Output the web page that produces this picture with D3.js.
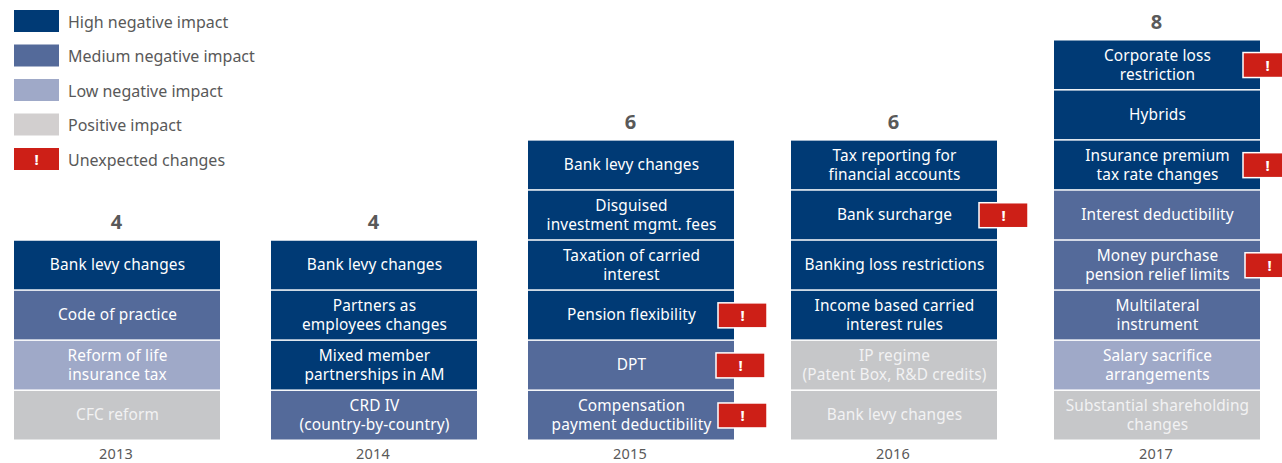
<!DOCTYPE html>
<html>
<head>
<meta charset="utf-8">
<script src="https://cdn.jsdelivr.net/npm/d3@7"></script>
<style>
  html, body { margin: 0; padding: 0; background: #fff; }
  svg { display: block; }
  text { font-family: "Noto Sans", "Open Sans", sans-serif; }
</style>
</head>
<body>
<div id="chart-area"></div>
<script>
// impact levels, same order as the legend
var levels = ['High negative impact', 'Medium negative impact', 'Low negative impact', 'Positive impact'];
var unexpectedLabel = 'Unexpected changes';

var years = ['2013', '2014', '2015', '2016', '2017'];
var totals = [4, 4, 6, 6, 8];

// items per year, top of the stack first ("|" is a line break)
var items2013 = ['Bank levy changes', 'Code of practice', 'Reform of life|insurance tax', 'CFC reform'];
var items2014 = ['Bank levy changes', 'Partners as|employees changes', 'Mixed member|partnerships in AM', 'CRD IV|(country-by-country)'];
var items2015 = ['Bank levy changes', 'Disguised|investment mgmt. fees', 'Taxation of carried|interest', 'Pension flexibility', 'DPT', 'Compensation|payment deductibility'];
var items2016 = ['Tax reporting for|financial accounts', 'Bank surcharge', 'Banking loss restrictions', 'Income based carried|interest rules', 'IP regime|(Patent Box, R&D credits)', 'Bank levy changes'];
var items2017 = ['Corporate loss|restriction', 'Hybrids', 'Insurance premium|tax rate changes', 'Interest deductibility', 'Money purchase|pension relief limits', 'Multilateral|instrument', 'Salary sacrifice|arrangements', 'Substantial shareholding|changes'];

// index into levels for each item
var impact2013 = [0, 1, 2, 3];
var impact2014 = [0, 0, 0, 1];
var impact2015 = [0, 0, 0, 0, 1, 1];
var impact2016 = [0, 0, 0, 0, 3, 3];
var impact2017 = [0, 0, 0, 1, 1, 1, 2, 3];

// which items carry the red flag
var flags2013 = [];
var flags2014 = [];
var flags2015 = ['Pension flexibility', 'DPT', 'Compensation|payment deductibility'];
var flags2016 = ['Bank surcharge'];
var flags2017 = ['Corporate loss|restriction', 'Insurance premium|tax rate changes', 'Money purchase|pension relief limits'];

var allItems = [items2013, items2014, items2015, items2016, items2017];
var allImpact = [impact2013, impact2014, impact2015, impact2016, impact2017];
var allFlags = [flags2013, flags2014, flags2015, flags2016, flags2017];

var width = 1282, height = 463;
var colWidth = 206, blockGap = 1.5;
var flagW = 49, flagH = 25;
var textColor = '#595959';
var red = '#cd1f17';

// flags were placed by hand in the original, so they wander a bit
var flagNudge = {
  'Pension flexibility': 1,
  'DPT': -1,
  'Compensation|payment deductibility': 1,
  'Bank surcharge': -1,
  'Money purchase|pension relief limits': 2
};

var svg = d3.select('#chart-area').append('svg')
  .attr('width', width)
  .attr('height', height);

// Columns are not evenly spaced in the original
var x = d3.scaleOrdinal().domain(years).range([14, 271, 528, 791, 1054]);
var y = d3.scaleLinear().domain([0, 8]).range([441, 40.5]);
var color = d3.scaleOrdinal().domain(levels).range(['#003a75', '#546a9a', '#9fa9c8', '#c6c7c9']);

years.forEach((year, c) => {
  var n = allItems[c].length;
  var col = svg.append('g').attr('class', 'col-' + year);

  var blocks = col.selectAll('g.block')
    .data(allItems[c].map((label, i) => ({ label: label, i: i, level: levels[allImpact[c][i]] })))
    .enter().append('g')
    .attr('class', 'block');

  blocks.append('rect')
    .attr('x', x(year))
    .attr('y', d => y(n - d.i))
    .attr('width', colWidth)
    .attr('height', d => y(n - d.i - 1) - y(n - d.i) - blockGap)
    .attr('fill', d => color(d.level));

  blocks.each(function(d) {
    var lines = d.label.split('|');
    var cy = (y(n - d.i) + y(n - d.i - 1)) / 2;
    var t = d3.select(this).append('text')
      .attr('text-anchor', 'middle')
      .attr('font-size', 15.4)
      .attr('letter-spacing', 0.14)
      .attr('fill', d.level == 'Positive impact' ? '#f2f2f3' : '#fff');
    lines.forEach((line, k) => {
      t.append('tspan')
        .attr('x', x(year) + colWidth / 2 + 0.5)
        .attr('y', cy + 4.5 + (k - (lines.length - 1) / 2) * 19)
        .text(line);
    });
  });

  // flags sit on the right edge of the block
  blocks.filter(d => allFlags[c].includes(d.label)).each(function(d) {
    var cy = (y(n - d.i) + y(n - d.i - 1)) / 2;
    var fx = x(year) + colWidth - 17 + (flagNudge[d.label] || 0);
    var g = d3.select(this).append('g');
    g.append('rect')
      .attr('x', fx)
      .attr('y', cy - flagH / 2 - 0.5)
      .attr('width', flagW)
      .attr('height', flagH)
      .attr('fill', red)
      .attr('stroke', '#fff')
      .attr('stroke-width', 1.5);
    g.append('text')
      .attr('x', fx + flagW / 2)
      .attr('y', cy + 5)
      .attr('text-anchor', 'middle')
      .attr('font-size', 15)
      .attr('font-weight', 700)
      .attr('fill', '#fff')
      .text('!');
  });

  // count above the stack
  col.append('text')
    .attr('x', x(year) + colWidth / 2 - 0.5)
    .attr('y', y(n) - 11.5)
    .attr('text-anchor', 'middle')
    .attr('font-size', 20)
    .attr('font-weight', 700)
    .attr('fill', textColor)
    .text(totals[c]);

  // year below the stack
  col.append('text')
    .attr('x', x(year) + colWidth / 2 - 1)
    .attr('y', 458.5)
    .attr('text-anchor', 'middle')
    .attr('font-size', 14.5)
    .attr('letter-spacing', 0.2)
    .attr('fill', textColor)
    .text(year);
});

// Legend
var legendY = d3.scalePoint().domain(levels.concat([unexpectedLabel])).range([10, 148]);
var legendColor = ['#003a75', '#546a9a', '#9fa9c8', '#d2cfcf', red];
var legend = svg.append('g').attr('class', 'legend');

levels.concat([unexpectedLabel]).forEach((label, i) => {
  legend.append('rect')
    .attr('x', 14)
    .attr('y', legendY(label))
    .attr('width', 45)
    .attr('height', 22)
    .attr('fill', legendColor[i]);
  legend.append('text')
    .attr('x', 68)
    .attr('y', legendY(label) + 17.5)
    .attr('font-size', 16)
    .attr('fill', textColor)
    .text(label);
});
legend.append('text')
  .attr('x', 36.5)
  .attr('y', legendY(unexpectedLabel) + 17)
  .attr('text-anchor', 'middle')
  .attr('font-size', 15)
  .attr('font-weight', 700)
  .attr('fill', '#fff')
  .text('!');
</script>
</body>
</html>
